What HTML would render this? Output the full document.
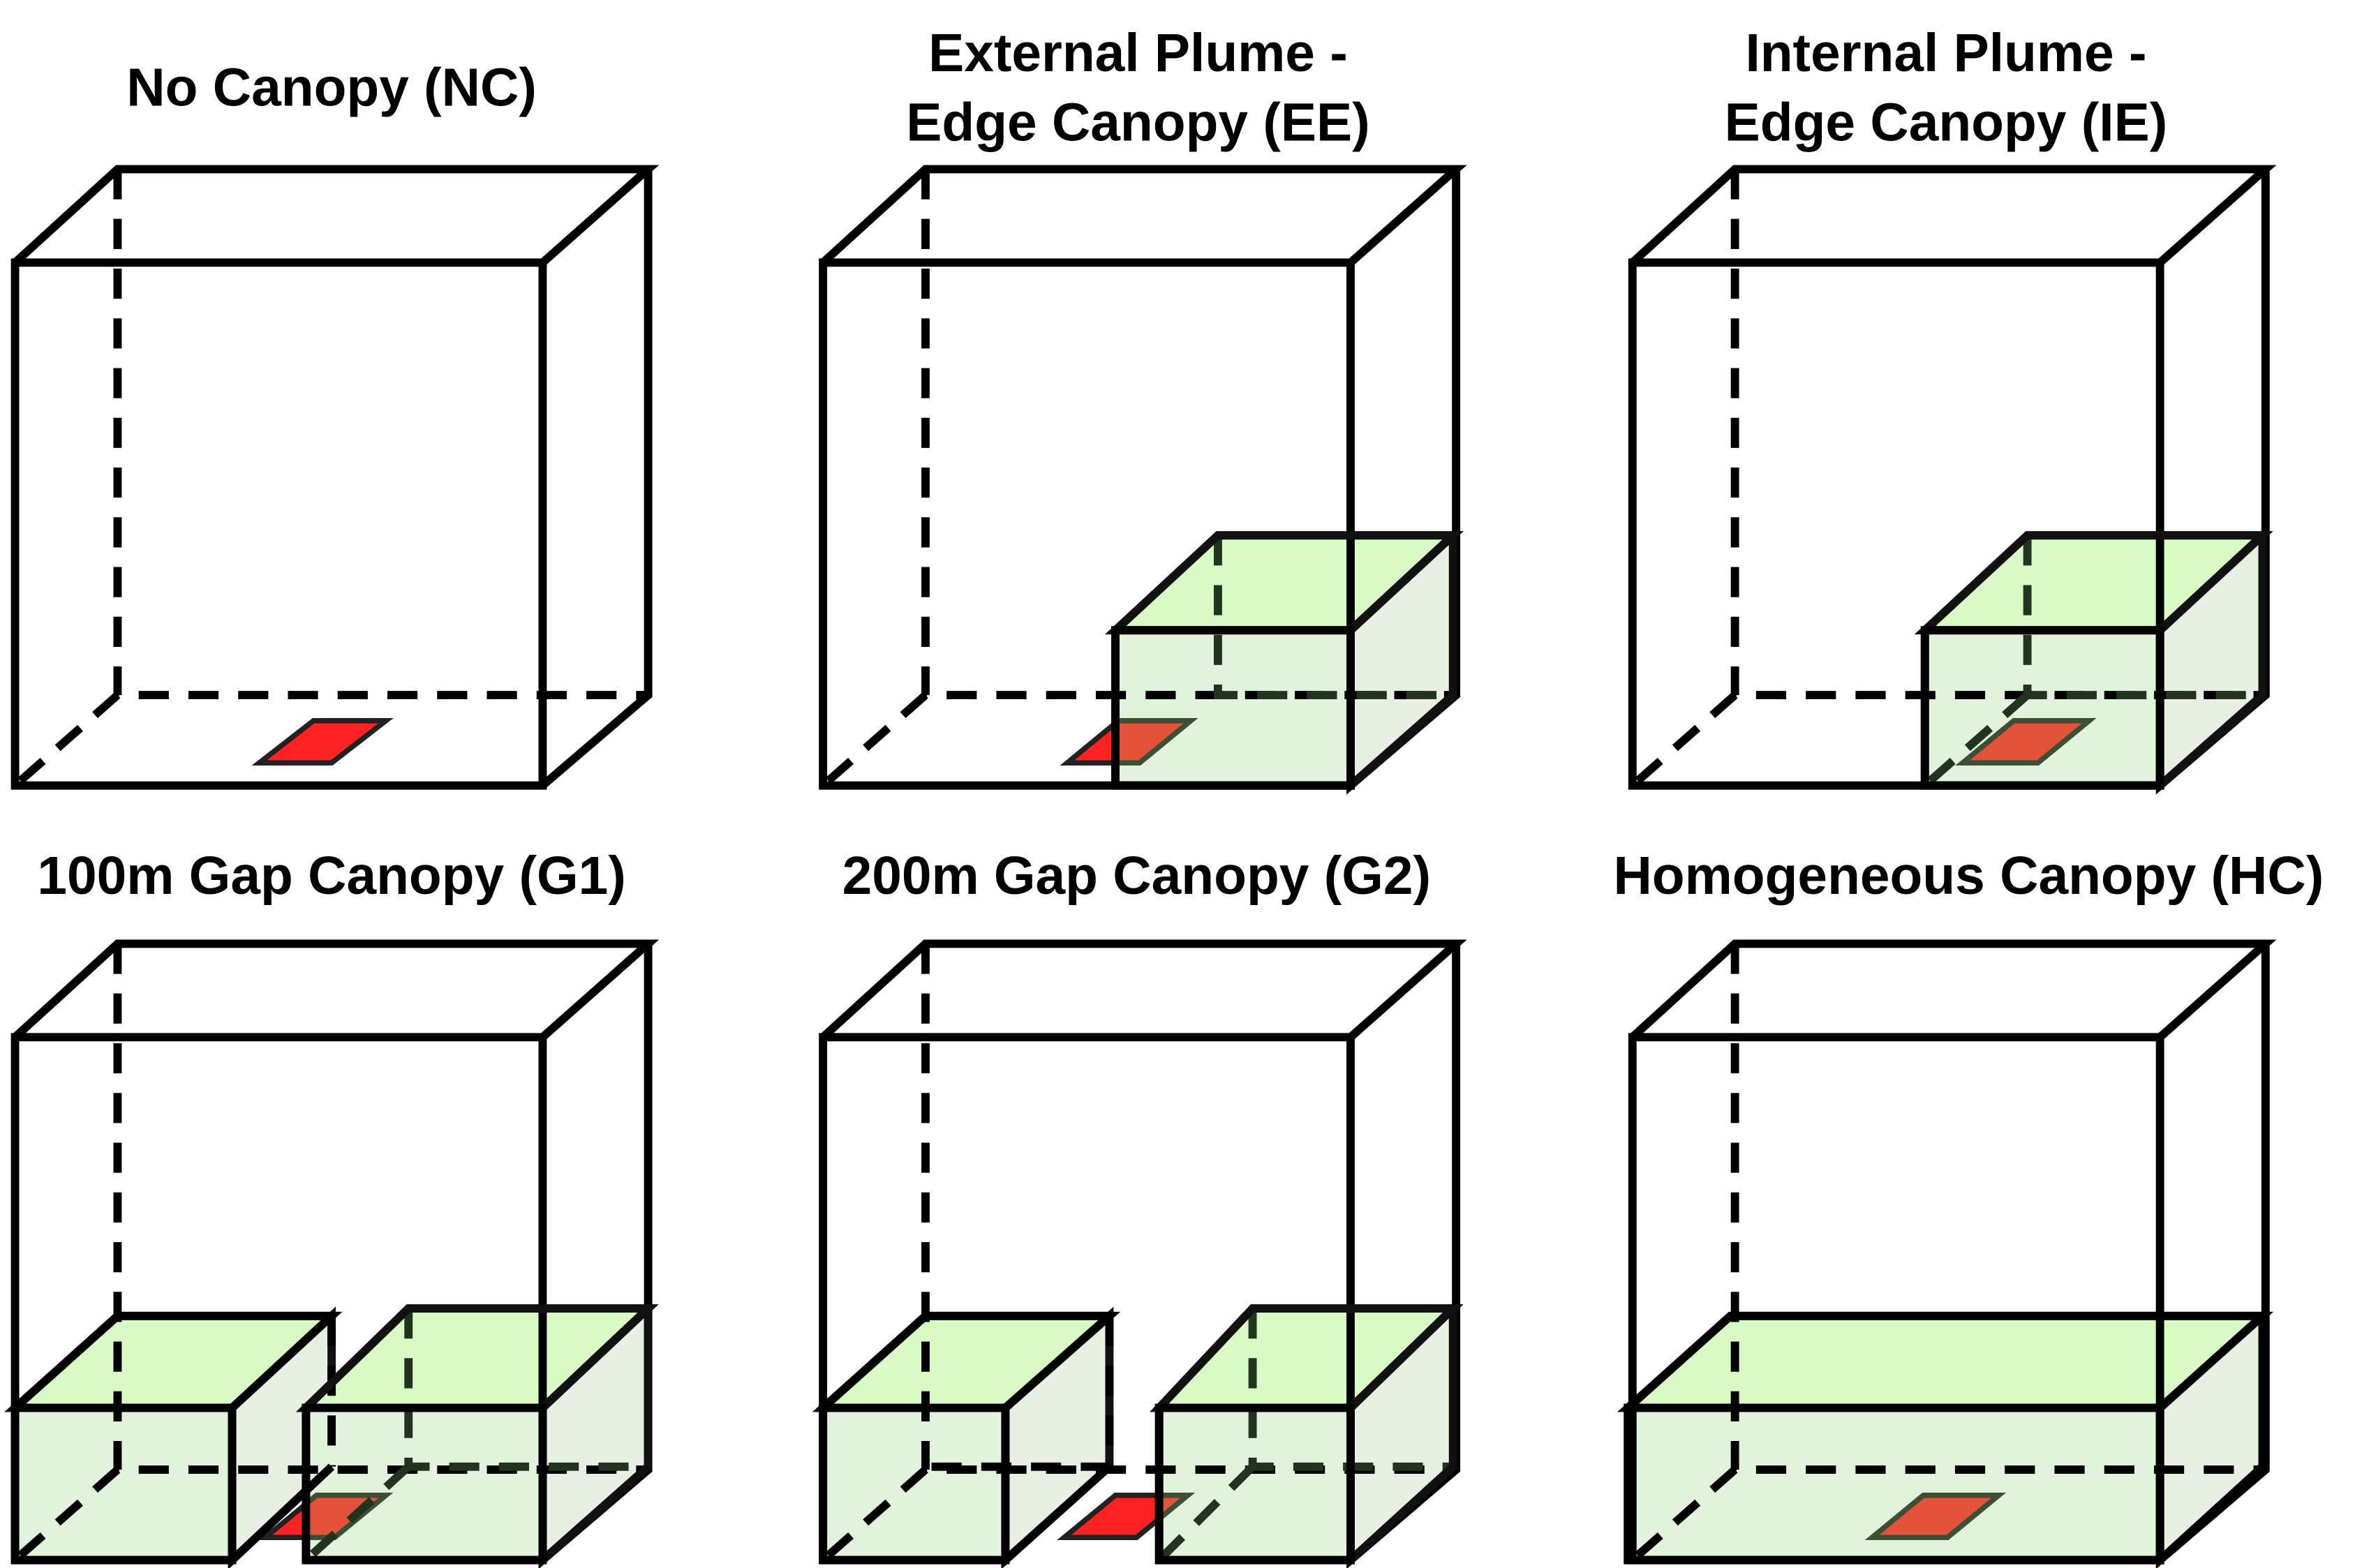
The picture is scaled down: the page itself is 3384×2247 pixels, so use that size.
<!DOCTYPE html>
<html><head><meta charset="utf-8"><style>
html,body{margin:0;padding:0;background:#fff;}
svg{display:block}
text{font-family:"Liberation Sans",sans-serif;font-weight:bold;font-size:35.5px;fill:#000;text-anchor:middle}
</style></head><body>
<svg width="3384" height="2247" viewBox="0 0 1567 1040" xmlns="http://www.w3.org/2000/svg">
<defs>
<g id="back">
  <path d="M78,112 V461 H430 M78,461 L10,521" fill="none" stroke="#000" stroke-width="5.5" stroke-dasharray="20,13"/>
</g>
<g id="front" fill="none" stroke="#000" stroke-width="5.5" stroke-linejoin="miter">
  <path d="M10,174 H360 V521 H10 Z"/>
  <path d="M10,174 L78,112 H430 L360,174 M430,112 V461 L360,521"/>
</g>
<g id="frontNB" fill="none" stroke="#000" stroke-width="5.5" stroke-linejoin="miter">
  <path d="M10,521 V174 H360 V521"/>
  <path d="M10,174 L78,112 H430 L360,174 M430,112 V461 L360,521"/>
</g>
<clipPath id="cEE"><polygon points="740,418 808,355 964,355 964,461 896,521 740,521"/></clipPath>
<clipPath id="cIE"><polygon points="1277,418 1345,355 1501,355 1501,461 1433,521 1277,521"/></clipPath>
<clipPath id="cG1"><polygon points="203,934 271,868 430,868 430,973 360,1035 203,1035"/></clipPath>
<clipPath id="cG2"><polygon points="769,934 831,868 964,868 964,973 896,1035 769,1035"/></clipPath>
</defs>

<!-- titles -->
<text x="220" y="70">No Canopy (NC)</text>
<text x="755" y="47">External Plume -</text>
<text x="755" y="93">Edge Canopy (EE)</text>
<text x="1291" y="47">Internal Plume -</text>
<text x="1291" y="93">Edge Canopy (IE)</text>
<text x="220" y="593">100m Gap Canopy (G1)</text>
<text x="754" y="593">200m Gap Canopy (G2)</text>
<text x="1306" y="593">Homogeneous Canopy (HC)</text>

<!-- Panel NC -->
<use href="#back"/>
<polygon points="172,506 208,478 256,478 220,506" fill="#ff2222" stroke="#222" stroke-width="3.5"/>
<use href="#front"/>

<!-- Panel EE -->
<polygon points="708,506 742,478 790,478 756,506" fill="#ff2222" stroke="#222" stroke-width="3.5"/>
<g stroke="#111" stroke-width="5.5">
<polygon points="740,418 808,355 964,355 896,418" fill="#d8fbc6"/>
<polygon points="896,418 964,355 964,461 896,521" fill="#e7f1e2"/>
<rect x="740" y="418" width="156" height="103" fill="#e1f3dc"/>
</g>
<polygon clip-path="url(#cEE)" points="708,506 742,478 790,478 756,506" fill="#e4523a" stroke="#3c5036" stroke-width="3.5"/>
<g transform="translate(536,0)"><use href="#back"/></g>
<path d="M808,355 V461 H964" fill="none" stroke="#223320" stroke-width="5.5" stroke-dasharray="20,13"/>
<g transform="translate(536,0)"><use href="#front"/></g>
<path d="M740,418 L808,355 H964 L896,418 M964,355 V461 L896,521" fill="none" stroke="#111" stroke-width="5.5"/>
<rect x="740" y="418" width="156" height="103" fill="none" stroke="#000" stroke-width="5.5"/>

<!-- Panel IE -->
<polygon points="1302,506 1336,478 1386,478 1352,506" fill="#ff2222" stroke="#222" stroke-width="3.5"/>
<g stroke="#111" stroke-width="5.5">
<polygon points="1277,418 1345,355 1501,355 1433,418" fill="#d8fbc6"/>
<polygon points="1433,418 1501,355 1501,461 1433,521" fill="#e7f1e2"/>
<rect x="1277" y="418" width="156" height="103" fill="#e1f3dc"/>
</g>
<polygon clip-path="url(#cIE)" points="1302,506 1336,478 1386,478 1352,506" fill="#e4523a" stroke="#3c5036" stroke-width="3.5"/>
<g transform="translate(1073,0)"><use href="#back"/></g>
<path d="M1345,355 V461 H1501 M1345,461 L1277,521" fill="none" stroke="#223320" stroke-width="5.5" stroke-dasharray="20,13"/>
<g transform="translate(1073,0)"><use href="#front"/></g>
<path d="M1277,418 L1345,355 H1501 L1433,418 M1501,355 V461 L1433,521" fill="none" stroke="#111" stroke-width="5.5"/>
<rect x="1277" y="418" width="156" height="103" fill="none" stroke="#000" stroke-width="5.5"/>

<!-- Panel G1 -->
<polygon points="176,1020 210,992 256,992 222,1020" fill="#ff2222" stroke="#222" stroke-width="3.5"/>
<g stroke="#111" stroke-width="5.5">
<polygon points="10,934 78,873 220,873 154,934" fill="#d8fbc6"/>
<polygon points="154,934 220,873 220,973 154,1035" fill="#e7f1e2"/>
<rect x="10" y="934" width="144" height="101" fill="#e1f3dc"/>
<polygon points="203,934 271,868 430,868 360,934" fill="#d8fbc6"/>
<polygon points="360,934 430,868 430,973 360,1035" fill="#e7f1e2"/>
<rect x="203" y="934" width="157" height="101" fill="#e1f3dc"/>
</g>
<polygon clip-path="url(#cG1)" points="176,1020 210,992 256,992 222,1020" fill="#e4523a" stroke="#3c5036" stroke-width="3.5"/>
<g transform="translate(0,514)"><use href="#back"/></g>
<path d="M220,873 V973" fill="none" stroke="#000" stroke-width="5.5" stroke-dasharray="20,13"/>
<path d="M271,868 V973 H430 M271,973 L203,1035" fill="none" stroke="#223320" stroke-width="5.5" stroke-dasharray="20,13"/>
<g transform="translate(0,514)"><use href="#frontNB"/></g>
<path d="M10,934 L78,873 H220 L154,934 V1035 L220,973" fill="none" stroke="#000" stroke-width="5.5"/>
<rect x="10" y="934" width="144" height="101" fill="none" stroke="#000" stroke-width="5.5"/>
<path d="M203,934 L271,868 H430 L360,934 M430,868 V973 L360,1035" fill="none" stroke="#111" stroke-width="5.5"/>
<rect x="203" y="934" width="157" height="101" fill="none" stroke="#000" stroke-width="5.5"/>

<!-- Panel G2 -->
<polygon points="706,1020 740,992 788,992 754,1020" fill="#ff2222" stroke="#222" stroke-width="3.5"/>
<g stroke="#111" stroke-width="5.5">
<polygon points="546,934 614,873 736,873 667,934" fill="#d8fbc6"/>
<polygon points="667,934 736,873 736,973 667,1035" fill="#e7f1e2"/>
<rect x="546" y="934" width="121" height="101" fill="#e1f3dc"/>
<polygon points="769,934 831,868 964,868 896,934" fill="#d8fbc6"/>
<polygon points="896,934 964,868 964,973 896,1035" fill="#e7f1e2"/>
<rect x="769" y="934" width="127" height="101" fill="#e1f3dc"/>
</g>
<polygon clip-path="url(#cG2)" points="706,1020 740,992 788,992 754,1020" fill="#e4523a" stroke="#3c5036" stroke-width="3.5"/>
<g transform="translate(536,514)"><use href="#back"/></g>
<path d="M736,873 V973 H614" fill="none" stroke="#000" stroke-width="5.5" stroke-dasharray="20,13"/>
<path d="M831,868 V973 H964 M831,973 L769,1035" fill="none" stroke="#223320" stroke-width="5.5" stroke-dasharray="20,13"/>
<g transform="translate(536,514)"><use href="#frontNB"/></g>
<path d="M546,934 L614,873 H736 L667,934 V1035 L736,973" fill="none" stroke="#000" stroke-width="5.5"/>
<rect x="546" y="934" width="121" height="101" fill="none" stroke="#000" stroke-width="5.5"/>
<path d="M769,934 L831,868 H964 L896,934 M964,868 V973 L896,1035" fill="none" stroke="#111" stroke-width="5.5"/>
<rect x="769" y="934" width="127" height="101" fill="none" stroke="#000" stroke-width="5.5"/>

<!-- Panel HC -->
<g stroke="#111" stroke-width="5.5">
<polygon points="1080,934 1148,873 1501,873 1433,934" fill="#d8fbc6"/>
<polygon points="1433,934 1501,873 1501,973 1433,1035" fill="#e7f1e2"/>
<rect x="1080" y="934" width="353" height="101" fill="#e1f3dc"/>
</g>
<polygon points="1242,1020 1276,992 1326,992 1292,1020" fill="#e4523a" stroke="#3c5036" stroke-width="3.5"/>
<g transform="translate(1073,514)"><use href="#back"/></g>
<g transform="translate(1073,514)"><use href="#front"/></g>
<path d="M1080,934 L1148,873 H1501 L1433,934 M1501,873 V973 L1433,1035" fill="none" stroke="#000" stroke-width="5.5"/>
<rect x="1080" y="934" width="353" height="101" fill="none" stroke="#000" stroke-width="5.5"/>
</svg>
</body></html>
